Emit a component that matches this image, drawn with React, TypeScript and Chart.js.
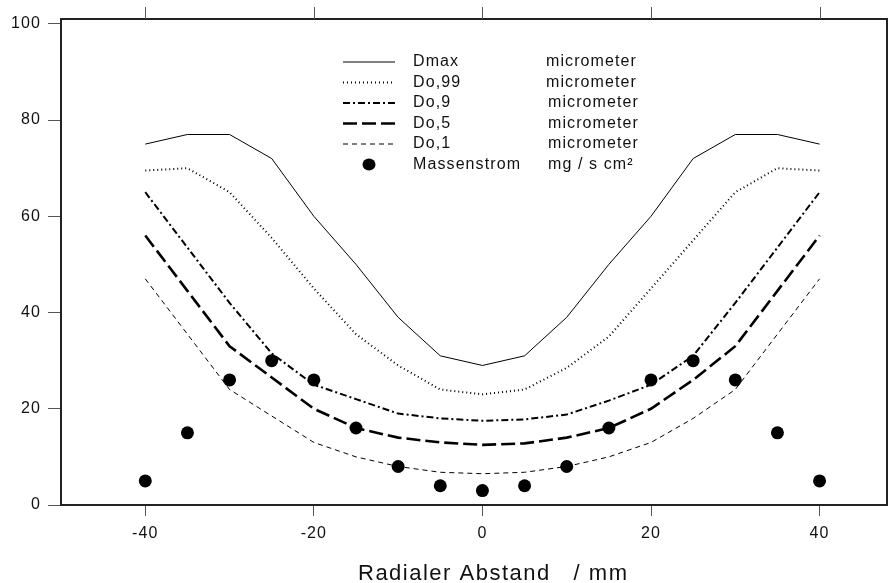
import React, { useEffect, useRef } from 'react';
import { Chart, registerables } from 'chart.js';

Chart.register(...registerables);

// Radial distance (mm)
const radius = [-40, -35, -30, -25, -20, -15, -10, -5, 0, 5, 10, 15, 20, 25, 30, 35, 40];
// Droplet diameters (micrometer)
const dmax = [75, 77, 77, 72, 60, 50, 39, 31, 29, 31, 39, 50, 60, 72, 77, 77, 75];
const do99 = [69.5, 70, 65, 55.5, 45, 35.5, 29, 24, 23, 24, 28.5, 35, 45, 55, 65, 70, 69.5];
const do9 = [65, 53.5, 42, 31.5, 25, 22, 19, 18, 17.5, 17.8, 18.8, 21.7, 25, 31, 42, 53.5, 65];
const do5 = [56, 44.5, 33, 26.5, 20, 16, 14, 13, 12.5, 12.8, 14, 16, 20, 26, 33, 44.5, 56];
const do1 = [47, 35.5, 24, 18.5, 13, 10, 8, 6.8, 6.5, 6.8, 8, 10, 13, 18, 24, 35.5, 47];
// Mass flux (mg / s cm²)
const massenstrom = [5, 15, 26, 30, 26, 16, 8, 4, 3, 4, 8, 16, 26, 30, 26, 15, 5];

const xTicks = [-40, -20, 0, 20, 40];
const yTicks = [0, 20, 40, 60, 80, 100];

const legendNames = ['Dmax', 'Do,99', 'Do,9', 'Do,5', 'Do,1', 'Massenstrom'];
const legendUnits = ['micrometer', 'micrometer', 'micrometer', 'micrometer', 'micrometer', 'mg / s cm²'];
const xTitle = 'Radialer Abstand   / mm';

const FONT = '"Liberation Sans", Arial, Helvetica, sans-serif';
const INK = '#111';

const lineStyles = [
  { width: 1, dash: [] as number[] },
  { width: 2, dash: [1, 3] },
  { width: 2, dash: [7, 3, 2, 3] },
  { width: 2.6, dash: [14, 5] },
  { width: 1, dash: [5, 4] },
];

export default function App() {
  const ref = useRef<HTMLCanvasElement>(null);

  useEffect(() => {
    const toPts = (ys: number[]) => radius.map((x, i) => ({ x, y: ys[i] }));
    const lineSeries = [dmax, do99, do9, do5, do1];

    const decor = {
      id: 'decor',
      beforeDraw(chart: any) {
        (chart.ctx as any).letterSpacing = '1.1px';
      },
      afterDraw(chart: any) {
        const ctx = chart.ctx as CanvasRenderingContext2D;
        const a = chart.chartArea;
        const xs = chart.scales.x;
        ctx.save();
        (ctx as any).letterSpacing = '0px';
        // frame
        ctx.strokeStyle = '#222';
        ctx.lineWidth = 2;
        ctx.setLineDash([]);
        ctx.strokeRect(a.left, a.top, a.right - a.left, a.bottom - a.top);
        // top ticks
        ctx.lineWidth = 1;
        ctx.strokeStyle = '#555';
        xTicks.forEach((v) => {
          const px = Math.round(xs.getPixelForValue(v)) + 0.5;
          ctx.beginPath();
          ctx.moveTo(px, a.top - 12);
          ctx.lineTo(px, a.top);
          ctx.stroke();
        });
        // legend
        const rowY0 = 62;
        const rowH = 20.5;
        const lx0 = 343;
        const lx1 = 395;
        ctx.strokeStyle = '#000';
        for (let i = 0; i < legendNames.length; i++) {
          const y = rowY0 + i * rowH;
          if (i < lineStyles.length) {
            ctx.lineWidth = lineStyles[i].width;
            ctx.setLineDash(lineStyles[i].dash);
            ctx.beginPath();
            ctx.moveTo(lx0, y);
            ctx.lineTo(lx1, y);
            ctx.stroke();
          } else {
            ctx.setLineDash([]);
            ctx.fillStyle = '#000';
            ctx.beginPath();
            ctx.ellipse(369, y, 6.5, 6, 0, 0, Math.PI * 2);
            ctx.fill();
          }
        }
        ctx.setLineDash([]);
        (ctx as any).letterSpacing = '1.1px';
        ctx.fillStyle = INK;
        ctx.font = `16px ${FONT}`;
        ctx.textBaseline = 'middle';
        ctx.textAlign = 'left';
        for (let i = 0; i < legendNames.length; i++) {
          const y = rowY0 + i * rowH;
          ctx.fillText(legendNames[i], 413, y);
          ctx.fillText(legendUnits[i], i < 2 ? 546 : 548, y);
        }
        // x axis title
        (ctx as any).letterSpacing = '1.5px';
        ctx.font = `22px ${FONT}`;
        ctx.textBaseline = 'alphabetic';
        ctx.fillText(xTitle, 358, 580);
        ctx.restore();
      },
    };

    const datasets: any[] = [
      {
        label: legendNames[5],
        data: toPts(massenstrom),
        showLine: false,
        pointRadius: 6.5,
        pointBackgroundColor: '#000',
        pointBorderColor: '#000',
        pointBorderWidth: 0,
        order: -1,
      },
      ...lineSeries.map((ys, i) => ({
        label: legendNames[i],
        data: toPts(ys),
        borderColor: '#000',
        borderWidth: lineStyles[i].width,
        borderDash: lineStyles[i].dash,
        borderCapStyle: 'butt',
        pointRadius: 0,
        tension: 0,
        fill: false,
        order: 0,
      })),
    ];

    const chart = new Chart(ref.current as HTMLCanvasElement, {
      type: 'line',
      data: { datasets },
      options: {
        animation: false,
        responsive: true,
        maintainAspectRatio: false,
        layout: { autoPadding: false, padding: { top: 19, right: 1, left: 0, bottom: 0 } },
        plugins: {
          legend: { display: false },
          tooltip: { enabled: false },
          title: { display: false },
        },
        scales: {
          x: {
            type: 'linear',
            min: -50,
            max: 48,
            afterBuildTicks: (scale: any) => {
              scale.ticks = xTicks.map((v) => ({ value: v }));
            },
            afterFit: (scale: any) => {
              scale.height = 78;
              scale.paddingLeft = 0;
              scale.paddingRight = 0;
            },
            grid: { display: true, drawOnChartArea: false, drawTicks: true, tickLength: 11, color: '#555', lineWidth: 1 },
            border: { display: false },
            ticks: { color: INK, font: { family: FONT, size: 16 }, padding: 8, maxRotation: 0, autoSkip: false, callback: (v: any) => String(v) },
          },
          y: {
            type: 'linear',
            min: 0,
            max: 101,
            afterBuildTicks: (scale: any) => {
              scale.ticks = yTicks.map((v) => ({ value: v }));
            },
            afterFit: (scale: any) => {
              scale.width = 61;
              scale.paddingTop = 0;
              scale.paddingBottom = 0;
            },
            grid: { display: true, drawOnChartArea: false, drawTicks: true, tickLength: 13, color: '#555', lineWidth: 1 },
            border: { display: false },
            ticks: { color: INK, font: { family: FONT, size: 16 }, padding: 7, autoSkip: false, callback: (v: any) => String(v) },
          },
        },
      } as any,
      plugins: [decor],
    });

    return () => chart.destroy();
  }, []);

  return (
    <div style={{ position: 'fixed', left: 0, top: 0, width: 888, height: 583, background: '#fff' }}>
      <canvas ref={ref} />
    </div>
  );
}
